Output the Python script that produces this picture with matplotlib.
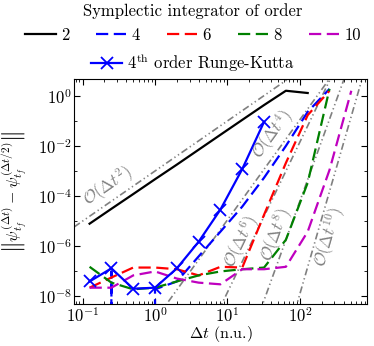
import numpy as np
import matplotlib
matplotlib.use('Agg')
import matplotlib.pyplot as plt
from matplotlib.lines import Line2D
from matplotlib.ticker import FixedLocator, NullFormatter

plt.rcParams['font.family'] = 'serif'
plt.rcParams['font.serif'] = ['cmr10']
plt.rcParams['mathtext.fontset'] = 'cm'
plt.rcParams['axes.formatter.use_mathtext'] = True
plt.rcParams['font.size'] = 12

# time steps (n.u.)
dt = [0.125, 0.25, 0.5, 1, 2, 4, 8, 16, 32, 64, 128, 256, 512]

# symplectic integrators, error vs dt
err_o2 = [7.9e-6, 3.1e-5, 1.2e-4, 4.7e-4, 1.8e-3, 7.1e-3, 2.8e-2, 0.11, 0.43, 1.6, 1.3]
err_o4 = [0, 1.0e-7, 0, 1.9e-8, 3.9e-8, 3.9e-7, 3.8e-6, 3.8e-5, 5.4e-4, 1.0e-2, 0.23, 1.9]
err_o6 = [2.2e-8, 5.6e-8, 1.4e-7, 1.4e-7, 1.2e-7, 6.8e-8, 1.5e-7, 1.4e-7, 1.8e-5, 2.1e-3, 0.17, 1.6]
err_o8 = [1.5e-7, 3.5e-8, 1.9e-8, 2.2e-8, 3.9e-8, 6.8e-8, 9.8e-8, 1.2e-7, 1.4e-7, 1.8e-6, 3.4e-4, 1.9]
err_o10 = [2.2e-8, 2.2e-8, 6.8e-8, 9.8e-8, 5.1e-8, 3.5e-8, 3.0e-8, 1.2e-7, 1.2e-7, 1.5e-7, 3.8e-6, 1.1e-3, 1.6]

# 4th order Runge-Kutta
err_rk4 = [3.9e-8, 1.3e-7, 2.0e-8, 2.2e-8, 1.3e-7, 1.5e-6, 2.9e-5, 1.2e-3, 9.2e-2]

# reference slopes: log10 of prefactor C in C*dt^n
ref_orders = [2, 4, 6, 8, 10]
ref_logc = [-3.0, -8.95, -13.84, -20.2, -27.9]
# label anchors (dt, err)
ref_label_x = [0.225, 42.5, 15.4, 46.6, 251]
ref_label_y = [2.4e-4, 2.8e-2, 1.5e-6, 2.9e-6, 2.2e-6]

orders = ['2', '4', '6', '8', '10']
colors = ['k', 'b', 'r', 'g', 'm']
series = [err_o2, err_o4, err_o6, err_o8, err_o10]

fig = plt.figure(figsize=(3.74, 3.46), dpi=100)
ax = fig.add_axes([0.198, 0.12, 0.783, 0.652])

ax.set_xscale('log')
ax.set_yscale('log')
ax.set_xlim(0.0763, 840)
ax.set_ylim(4.7e-9, 4.76)

dash = (0, (5.5, 2.5))
dashdotdot = (0, (4.2, 1.8, 0.8, 1.8, 0.8, 1.8))

# reference lines
xr = np.array(ax.get_xlim())
for n, lc in zip(ref_orders, ref_logc):
    ax.plot(xr, 10**lc * xr**n, color='gray', lw=1.2, linestyle=dashdotdot, zorder=1)

handles = []
for lab, col, err in zip(orders, colors, series):
    ls = '-' if lab == '2' else dash
    ax.plot(dt[:len(err)], err, color=col, lw=1.6, linestyle=ls, zorder=2)
    handles.append(Line2D([], [], color=col, lw=1.6, linestyle=ls))

ax.plot(dt[:len(err_rk4)], err_rk4, color='b', lw=1.6, marker='x', ms=8, mew=1.3, zorder=3)
rk_handle = Line2D([], [], color='b', lw=1.6, marker='x', ms=8, mew=1.3)

# slope labels rotated along the lines
for n, x0, y0 in zip(ref_orders, ref_label_x, ref_label_y):
    p1 = ax.transData.transform((1.0, 1.0))
    p2 = ax.transData.transform((10.0, 10.0**n))
    ang = np.degrees(np.arctan2(p2[1] - p1[1], p2[0] - p1[0]))
    ax.text(x0, y0, r'$\mathcal{O}(\Delta t^{%d})$' % n, color='gray', fontsize=12,
            rotation=ang, rotation_mode='anchor', ha='center', va='center')

ax.yaxis.set_major_locator(FixedLocator([1e-8, 1e-6, 1e-4, 1e-2, 1e0]))
ax.yaxis.set_minor_locator(FixedLocator([1e-7, 1e-5, 1e-3, 1e-1]))
ax.yaxis.set_minor_formatter(NullFormatter())
ax.tick_params(which='both', direction='in', top=True, right=True, pad=1.5)
ax.tick_params(which='major', length=4, width=0.8)
ax.tick_params(which='minor', length=2, width=0.6)

ax.set_xlabel(r'$\Delta t$ (n.u.)', labelpad=-1, fontsize=11.5)
ax.set_ylabel(r'$\left\Vert \psi^{(\Delta t)}_{t_f} - \psi^{(\Delta t/2)}_{t_f} \right\Vert$', fontsize=11.5)
ax.yaxis.set_label_coords(-0.15, 0.5)

fig.legend(handles, orders, ncol=5, loc='upper center', bbox_to_anchor=(0.516, 1.0),
           frameon=False, title='Symplectic integrator of order', handlelength=1.85,
           handletextpad=0.3, columnspacing=1.6, borderaxespad=0.1, borderpad=0.1)
fig.legend([rk_handle], [r'$4^{\rm th}$ order Runge-Kutta'], loc='upper center',
           bbox_to_anchor=(0.516, 0.88), frameon=False, handlelength=1.85,
           handletextpad=0.3, borderpad=0.1)

plt.savefig('out.png', dpi=100)
plt.close()
